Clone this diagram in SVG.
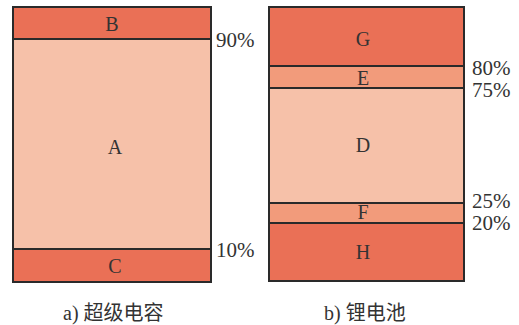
<svg xmlns="http://www.w3.org/2000/svg" width="519" height="325" viewBox="0 0 519 325">
<style>
.dark{fill:#EA7056;}
.light{fill:#F6C1A9;}
.mid{fill:#F29B7B;}
.b{stroke:#2a2a2a;stroke-width:2;}
.lbl{font-family:"Liberation Serif","Times New Roman",serif;font-size:20px;fill:#333;text-anchor:middle;}
.pct{font-family:"Liberation Serif","Times New Roman",serif;font-size:21px;fill:#333;}
.cap{font-family:"Liberation Serif","Noto Sans CJK SC",serif;font-size:20px;fill:#333;}
</style>
<rect width="519" height="325" fill="#fff"/>
<g id="supercap">
<g id="B"><rect class="dark b" x="13" y="7" width="198" height="32"/><text class="lbl" x="112" y="31">B</text></g>
<g id="A"><rect class="light b" x="13" y="39" width="198" height="210"/><text class="lbl" x="115" y="154">A</text></g>
<g id="C"><rect class="dark b" x="13" y="249" width="198" height="33"/><text class="lbl" x="115" y="273">C</text></g>
<text class="pct" x="216" y="47">90%</text>
<text class="pct" x="216" y="257">10%</text>
<text class="cap" x="63" y="320">a) <tspan font-family="Noto Sans CJK SC,sans-serif">超级电容</tspan></text>
</g>
<g id="battery">
<g id="G"><rect class="dark b" x="269" y="7" width="195" height="59"/><text class="lbl" x="363" y="46">G</text></g>
<g id="E"><rect class="mid b" x="269" y="66" width="195" height="22"/><text class="lbl" x="363" y="85">E</text></g>
<g id="D"><rect class="light b" x="269" y="88" width="195" height="115"/><text class="lbl" x="363" y="152">D</text></g>
<g id="F"><rect class="mid b" x="269" y="203" width="195" height="20"/><text class="lbl" x="363" y="219">F</text></g>
<g id="H"><rect class="dark b" x="269" y="223" width="195" height="58"/><text class="lbl" x="363" y="259">H</text></g>
<text class="pct" x="472" y="75">80%</text>
<text class="pct" x="472" y="97">75%</text>
<text class="pct" x="472" y="208">25%</text>
<text class="pct" x="472" y="230">20%</text>
<text class="cap" x="324" y="320">b) <tspan font-family="Noto Sans CJK SC,sans-serif">锂电池</tspan></text>
</g>
<g id="connectors"></g>
</svg>
